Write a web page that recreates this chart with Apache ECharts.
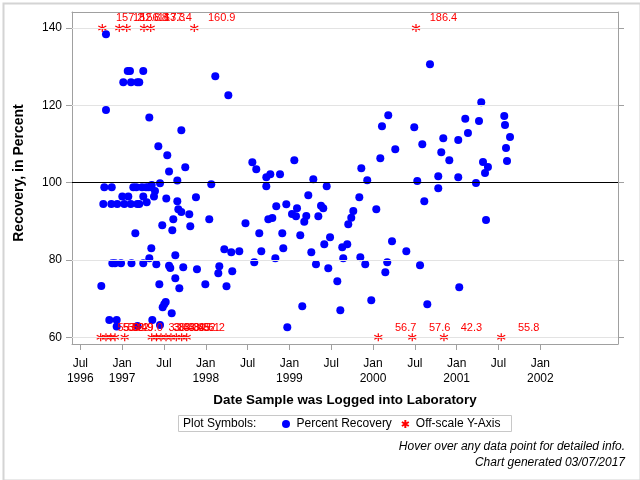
<!DOCTYPE html>
<html><head><meta charset="utf-8">
<script src="https://cdn.jsdelivr.net/npm/echarts@6/dist/echarts.min.js"></script>
<style>html,body{margin:0;padding:0;background:#fff}#c{width:640px;height:480px}</style>
</head><body><div id="c"></div>
<script>
// ---- data (x in decimal years) ----
const xTickValues = [1996.5,1997,1997.5,1998,1998.5,1999,1999.5,2000,2000.5,2001,2001.5,2002];
const xTickLabels = ['Jul\n1996','Jan\n1997','Jul','Jan\n1998','Jul','Jan\n1999','Jul','Jan\n2000','Jul','Jan\n2001','Jul','Jan\n2002'];
const yTickValues = [60,80,100,120,140];
const referenceValue = 100;
const yPlotMin = 58.27, yPlotMax = 144.14;
const xPlotMin = 1996.4008, xPlotMax = 2002.929;

const recoveryPoints = [
[1996.807,138.37],[1997.067,128.88],[1997.094,128.88],[1997.253,128.88],[1997.014,125.95],[1997.106,125.95],
[1997.182,125.95],[1997.205,125.95],[1996.807,118.79],[1997.325,116.85],[1997.708,113.54],[1997.433,109.40],
[1997.540,107.07],[1997.755,103.97],[1997.561,102.88],[1997.660,100.55],[1996.787,98.79],[1996.876,98.79],
[1997.134,98.79],[1997.170,98.79],[1997.238,98.79],[1997.286,98.79],[1997.315,98.79],[1997.345,98.79],
[1997.354,99.39],[1997.453,99.83],[1997.393,97.84],[1997.002,96.42],[1997.074,96.42],[1997.253,96.42],
[1997.381,96.42],[1997.528,95.90],[1997.883,96.21],[1996.775,94.47],[1996.871,94.47],[1996.942,94.47],
[1997.026,94.47],[1997.103,94.47],[1997.182,94.47],[1997.205,94.47],[1997.294,94.91],[1997.660,95.17],
[1997.672,93.10],[1997.708,92.41],[1997.803,91.81],[1997.612,90.52],[1997.480,88.97],[1997.815,88.71],
[1997.600,87.67],[1997.158,86.90],[1997.349,83.02],[1997.325,80.43],[1997.636,81.20],[1996.883,79.14],
[1996.915,79.14],[1996.987,79.14],[1997.112,79.14],[1997.253,79.14],[1997.409,78.88],[1997.561,78.52],
[1997.576,77.92],[1997.731,78.10],[1997.895,77.58],[1996.751,73.26],[1997.445,73.70],[1997.636,75.26],
[1997.684,72.67],[1997.521,69.13],[1997.504,68.53],[1997.485,67.75],[1997.593,66.20],[1996.847,64.47],
[1996.935,64.47],[1997.361,64.47],[1996.935,62.79],[1997.453,63.18],[1997.184,62.92],
[1998.066,99.57],[1998.114,127.51],[1998.270,122.59],[1998.042,90.52],[1997.995,73.70],[1998.162,78.36],
[1998.150,76.55],[1998.222,82.76],[1998.305,81.98],[1998.401,82.24],[1998.317,77.07],[1998.248,73.19],
[1998.475,89.48],[1998.557,105.26],[1998.604,103.45],[1998.640,86.90],[1998.664,82.24],[1998.580,79.39],
[1998.724,101.38],[1998.772,102.16],[1998.724,99.05],[1998.888,102.16],[1998.748,90.52],[1998.796,90.85],
[1998.843,93.88],[1998.963,94.40],[1998.915,86.90],[1998.927,83.02],[1998.832,80.43],[1998.975,62.58],
[1999.059,105.78],[1999.091,93.36],[1999.031,91.89],[1999.079,91.29],[1999.202,91.37],[1999.178,89.90],
[1999.130,86.38],[1999.154,68.01],[1999.286,100.86],[1999.226,96.73],[1999.262,81.98],[1999.318,78.88],
[1999.378,94.04],[1999.405,93.36],[1999.346,91.29],[1999.446,99.05],[1999.486,85.86],[1999.417,84.05],
[1999.465,77.84],
[2000.182,117.42],[2000.107,114.57],[2000.493,114.31],[2000.840,111.47],[2000.589,109.92],[2001.019,111.03],
[2000.266,108.62],[2000.816,107.85],[2000.912,105.78],[2000.087,106.30],[1999.860,103.71],[1999.931,100.61],
[2000.529,100.42],[2000.780,101.64],[2001.019,101.38],[2000.780,98.54],[2000.613,95.17],[1999.836,96.21],
[2000.039,93.10],[1999.764,92.66],[1999.740,90.93],[1999.704,89.22],[1999.632,83.27],[1999.692,84.05],
[1999.644,80.43],[1999.848,80.69],[2000.227,84.83],[2000.398,82.24],[1999.907,78.88],[2000.170,79.39],
[2000.147,76.81],[2000.562,78.62],[1999.573,74.48],[1999.979,69.57],[1999.609,66.98],[2000.649,68.53],
[2001.031,72.93],[2000.681,130.61],
[2001.103,116.54],[2001.135,112.84],[2001.267,115.94],[2001.294,120.78],[2001.231,99.91],[2001.315,105.34],
[2001.339,102.49],[2001.374,104.05],[2001.351,90.34],[2001.569,117.24],[2001.578,114.91],[2001.590,108.96],
[2001.602,105.60],[2001.638,111.81]
];

// off-scale values: [date, actual value]; drawn at the axis limit they exceed
const offscaleHighDates = [1996.763,1996.966,1997.055,1997.262,1997.342,1997.863,2000.514];
const offscaleHighValues = [157.2,152.8,156.8,163.3,177.4,160.9,186.4];
const offscaleLowDates = [1996.744,1996.807,1996.864,1996.915,1997.031,1997.354,1997.411,1997.465,1997.525,1997.584,1997.648,1997.712,1997.772,2000.063,2000.469,2000.848,2001.533];
const offscaleLowValues = [55.3,53.8,50.2,52.9,49.0,33.3,38.5,35.0,43.8,48.3,39.5,45.1,52.2,56.7,57.6,42.3,55.8];

const offscaleData = offscaleHighDates.map((d,i)=>[d,140,offscaleHighValues[i]])
  .concat(offscaleLowDates.map((d,i)=>[d,60,offscaleLowValues[i]]));

const FONT = '"Liberation Sans", Arial, sans-serif';
const FRAME = '#a0a0a0';
const asterisk = 'path://M5,0L5,10M0.67,2.5L9.33,7.5M0.67,7.5L9.33,2.5';

const chart = echarts.init(document.getElementById('c'), null, {renderer:'canvas'});
chart.setOption({
  animation:false,
  backgroundColor:'#fff',
  textStyle:{fontFamily:FONT},
  tooltip:{trigger:'item'},
  grid:{left:72,right:22,top:12,bottom:136,containLabel:false},
  xAxis:[{
    type:'value', min:xPlotMin, max:xPlotMax, position:'bottom',
    name:'Date Sample was Logged into Laboratory', nameLocation:'middle', nameGap:50,
    nameTextStyle:{fontFamily:FONT,fontSize:13.4,fontWeight:'bold',color:'#000'},
    axisLine:{show:true,lineStyle:{color:FRAME,width:1}},
    axisTick:{show:true,inside:false,length:6,lineStyle:{color:FRAME},customValues:xTickValues},
    axisLabel:{show:true,margin:12,lineHeight:15,fontSize:12,color:'#000',fontFamily:FONT,customValues:xTickValues,
      formatter:v=>{const i=xTickValues.findIndex(t=>Math.abs(t-v)<1e-6);return i>=0?xTickLabels[i]:'';}},
    splitLine:{show:false}
  },{
    type:'value', min:xPlotMin, max:xPlotMax, position:'top',
    axisLine:{show:true,lineStyle:{color:FRAME,width:1}},
    axisTick:{show:false}, axisLabel:{show:false}, splitLine:{show:false}
  }],
  yAxis:[{
    type:'value', min:yPlotMin, max:yPlotMax, position:'left',
    name:'Recovery, in Percent', nameLocation:'middle', nameGap:46, nameRotate:90,
    nameTextStyle:{fontFamily:FONT,fontSize:14,fontWeight:'bold',color:'#000',padding:[0,0,0,10]},
    axisLine:{show:true,lineStyle:{color:FRAME,width:1}},
    axisTick:{show:true,length:6,lineStyle:{color:FRAME},customValues:yTickValues},
    axisLabel:{show:true,margin:10,fontSize:12,color:'#000',fontFamily:FONT,customValues:yTickValues},
    splitLine:{show:false}
  },{
    type:'value', min:yPlotMin, max:yPlotMax, position:'right',
    axisLine:{show:true,lineStyle:{color:FRAME,width:1}},
    axisTick:{show:true,length:6,lineStyle:{color:FRAME},customValues:yTickValues},
    axisLabel:{show:false}, splitLine:{show:false}
  }],
  legend:{
    left:282, top:418, padding:0, itemWidth:11, itemHeight:8, itemGap:9,
    textStyle:{fontSize:12,color:'#000',fontFamily:FONT},
    data:['Percent Recovery','Off-scale Y-Axis'], selectedMode:false
  },
  series:[
    {type:'line', name:'grid', data:[], z:1, silent:true,
     markLine:{silent:true,symbol:'none',animation:false,label:{show:false},
       lineStyle:{color:'#e3e3e3',width:1,type:'solid'},
       data:yTickValues.filter(v=>v!==referenceValue).map(v=>({yAxis:v}))}},
    {type:'line', name:'ref', data:[], z:1, silent:true,
     markLine:{silent:true,symbol:'none',animation:false,label:{show:false},
       lineStyle:{color:'#000',width:1,type:'solid'},
       data:[{yAxis:referenceValue}]}},
    {type:'scatter', name:'Percent Recovery', data:recoveryPoints, symbol:'circle', symbolSize:8, z:3,
     itemStyle:{color:'#0000ff',opacity:1}},
    {type:'scatter', name:'Off-scale Y-Axis', data:offscaleData, symbol:asterisk, symbolSize:8, z:4,
     itemStyle:{color:'#ff0000',borderColor:'#ff0000',borderWidth:1.2,opacity:1},
     label:{show:true,position:[32,-5],align:'center',verticalAlign:'middle',color:'#ff0000',fontSize:11,fontFamily:FONT,
       formatter:p=>p.value[2].toFixed(1)}}
  ],
  graphic:[
    {type:'rect',left:1,top:1,shape:{x:0,y:0,width:637,height:477},style:{fill:'none',stroke:'#d4d4d4',lineWidth:2},silent:true,z:0},
    {type:'rect',shape:{x:178.5,y:415.5,width:333,height:16},style:{fill:'none',stroke:'#c8c8c8',lineWidth:1},silent:true},
    {type:'text',x:183,y:423.5,style:{text:'Plot Symbols:',font:'12px '+FONT,fill:'#000',verticalAlign:'middle'}},
    {type:'text',x:625,y:447,style:{text:'Hover over any data point for detailed info.',font:'italic 12px '+FONT,fill:'#000',align:'right',verticalAlign:'middle'}},
    {type:'text',x:625,y:463,style:{text:'Chart generated 03/07/2017',font:'italic 12px '+FONT,fill:'#000',align:'right',verticalAlign:'middle'}}
  ]
});
</script></body></html>
